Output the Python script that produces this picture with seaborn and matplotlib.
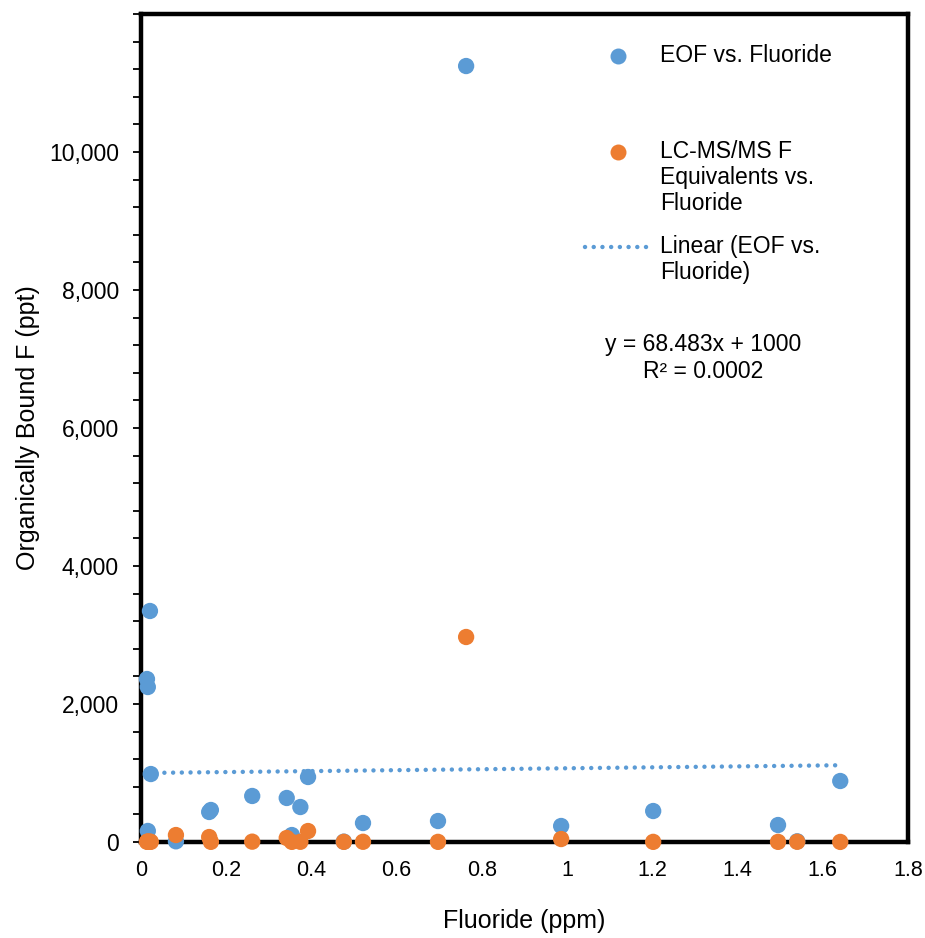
import matplotlib
matplotlib.use("Agg")
import matplotlib.pyplot as plt
from matplotlib.lines import Line2D
from matplotlib.ticker import FixedLocator, FuncFormatter, MultipleLocator
import numpy as np
import pandas as pd
import seaborn as sns

# Fluoride concentration at each site (ppm)
fluoride = [0.763, 0.021, 0.014, 0.016, 0.023, 0.016, 0.082, 0.160, 0.164,
            0.261, 0.342, 0.354, 0.374, 0.392, 0.476, 0.521, 0.697, 0.986,
            1.202, 1.495, 1.540, 1.641]
# Extractable organic fluorine (ppt)
eof = [11246, 3348, 2362, 2246, 985, 160, 10, 435, 464,
       667, 638, 101, 507, 942, 5, 275, 304, 232,
       449, 246, 10, 884]
# LC-MS/MS fluorine equivalents (ppt)
lcms = [2971, 5, 3, 4, 2, 6, 101, 72, 2,
        5, 58, 2, 3, 159, 2, 3, 2, 43,
        2, 2, 3, 1]

# Trendline parameters for EOF vs. fluoride
slope = 68.483
intercept = 1000.0
r_squared = "0.0002"

series_eof = "EOF vs. Fluoride"
series_lcms = "LC-MS/MS F\nEquivalents vs.\nFluoride"
series_fit = "Linear (EOF vs.\nFluoride)"

y_ticks = [0, 2000, 4000, 6000, 8000, 10000]

blue = "#5B9BD5"
orange = "#ED7D31"

sns.set_theme(style="white")
plt.rcParams["font.family"] = ["Liberation Sans", "DejaVu Sans"]

df = pd.DataFrame({
    "Fluoride": fluoride * 2,
    "Bound": eof + lcms,
    "Series": [series_eof] * len(eof) + [series_lcms] * len(lcms),
})

W, H = 925, 938
fig = plt.figure(figsize=(W / 100, H / 100), dpi=100)
ax = fig.add_axes([141 / W, 1 - 842 / H, (908 - 141) / W, (842 - 14) / H])

sns.scatterplot(data=df, x="Fluoride", y="Bound", hue="Series",
                palette={series_eof: blue, series_lcms: orange},
                s=138, linewidth=0, ax=ax, legend=False, zorder=3,
                clip_on=False)

# Linear trendline over the range of the EOF data (round dots)
dots = (0, (0.01, 1.95))
dot_width = 3.2
xfit = np.array([min(fluoride), max(fluoride)])
sns.lineplot(x=xfit, y=slope * xfit + intercept, ax=ax, color=blue,
             linestyle=dots, linewidth=dot_width, dash_capstyle="round",
             zorder=2)

ax.set_xlim(0, 1.8)
ax.set_ylim(0, 12000)
ax.xaxis.set_major_locator(MultipleLocator(0.2))
ax.yaxis.set_major_locator(FixedLocator(y_ticks))
ax.yaxis.set_minor_locator(MultipleLocator(400))
ax.xaxis.set_major_formatter(
    FuncFormatter(lambda v, p: f"{v:.1f}".rstrip("0").rstrip(".") if v else "0"))
ax.yaxis.set_major_formatter(FuncFormatter(lambda v, p: f"{int(v):,}"))

ax.tick_params(axis="x", which="both", length=0, pad=13, labelsize=15.5,
               labelcolor="black")
ax.tick_params(axis="y", which="major", left=True, length=6, width=1.3,
               direction="out", pad=10, labelsize=16.5, color="black",
               labelcolor="black")
ax.tick_params(axis="y", which="minor", left=True, length=6, width=1.3,
               direction="out", color="black")
for sp in ax.spines.values():
    sp.set_visible(True)
    sp.set_color("black")
    sp.set_linewidth(3.2)

ax.set_xlabel("Fluoride (ppm)", fontsize=18, labelpad=20, color="black")
ax.set_ylabel("Organically Bound F (ppt)", fontsize=18, labelpad=6,
              color="black")

# Legend: keys and labels laid out top-aligned, one block per series
def fx(px):
    return px / W

def fy(py):
    return 1 - py / H

legend_entries = [
    (Line2D([fx(618)], [fy(56)], marker="o", linestyle="none",
            markersize=11.5, markerfacecolor=blue, markeredgewidth=0,
            transform=fig.transFigure), series_eof, 56),
    (Line2D([fx(618)], [fy(152)], marker="o", linestyle="none",
            markersize=11.5, markerfacecolor=orange, markeredgewidth=0,
            transform=fig.transFigure), series_lcms, 152),
    (Line2D([fx(585), fx(654)], [fy(247), fy(247)], color=blue,
            linestyle=dots, linewidth=dot_width, dash_capstyle="round",
            transform=fig.transFigure), series_fit, 247),
]
for key, label, ypx in legend_entries:
    fig.add_artist(key)
    fig.text(fx(660), fy(ypx - 12), label, ha="left", va="top",
             fontsize=16.5, linespacing=1.17, color="black")

fig.text(fx(703), fy(358),
         f"y = {slope}x + {intercept:.0f}\nR² = {r_squared}",
         ha="center", va="center", fontsize=16.5, linespacing=1.2,
         color="black")

fig.savefig("out.png", dpi=100)
